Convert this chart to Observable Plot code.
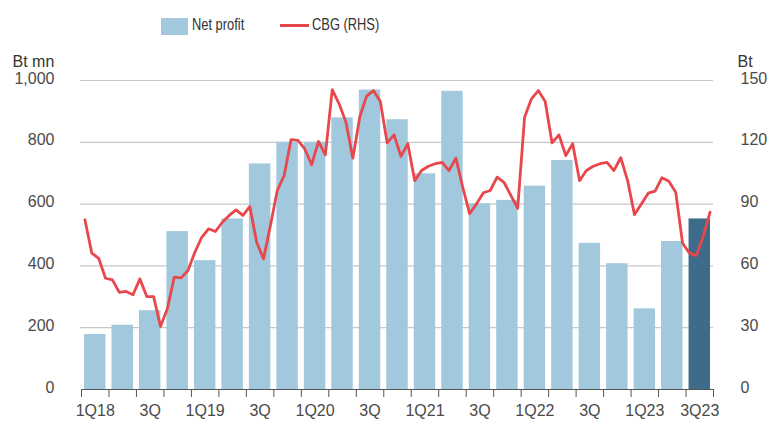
<!DOCTYPE html>
<html>
<head>
<meta charset="utf-8">
<script src="https://cdn.jsdelivr.net/npm/d3@7"></script>
<script src="https://cdn.jsdelivr.net/npm/@observablehq/plot@0.6"></script>
<style>
  html, body { margin: 0; padding: 0; background: #fff; }
  #wrap { width: 772px; position: relative; font-family: "Liberation Sans", Arial, sans-serif; }
  #legend { position: relative; height: 40px; width: 772px; }
  #legend .sw { position: absolute; }
  #legend .lab { position: absolute; font-family: "Liberation Sans", Arial, sans-serif; font-size: 16.5px; color: #333; line-height: 20px; white-space: nowrap; transform: scaleX(0.78); transform-origin: 0 50%; }
</style>
</head>
<body>
<div id="wrap">
  <div id="legend">
    <div class="sw" style="left:161px; top:18px; width:27px; height:17px; background:#a1c8dc;"></div>
    <div class="lab" style="left:192px; top:14px;">Net profit</div>
    <div class="sw" style="left:280px; top:24px; width:29px; height:3px; background:#e8474b;"></div>
    <div class="lab" style="left:312px; top:14px;">CBG (RHS)</div>
  </div>
  <div id="chart"></div>
</div>
<script>
// Quarters 1Q18 .. 3Q23
const quarters = ["1Q18","2Q18","3Q18","4Q18","1Q19","2Q19","3Q19","4Q19","1Q20","2Q20","3Q20","4Q20",
  "1Q21","2Q21","3Q21","4Q21","1Q22","2Q22","3Q22","4Q22","1Q23","2Q23","3Q23"];
// Net profit, Bt mn (left axis)
const netProfit = [178, 208, 255, 511, 417, 552, 730, 800, 800, 879, 969, 873,
  698, 965, 601, 612, 658, 741, 473, 407, 261, 479, 552];
// CBG share price, Bt (right axis), 4 readings per quarter
const cbgPrice = [
  82.4, 66.2, 63.7, 54.0,  53.2, 47.2, 47.6, 46.0,  53.7, 45.1, 45.1, 30.6,  39.2, 54.5, 54.2, 57.8,
  66.6, 73.9, 78.0, 76.7,  81.2, 84.5, 87.2, 84.5,  88.8, 71.5, 63.4, 79.6,  96.6, 103.9, 121.3, 120.9,
  116.8, 109.1, 120.4, 113.9,  145.6, 138.7, 129.7, 112.3,  132.2, 142.4, 145.1, 139.8,  119.7, 123.6, 113.2, 119.3,
  101.4, 106.3, 108.4, 109.6,  110.3, 106.3, 112.3, 98.2,  85.3, 90.1, 95.5, 96.6,  103.1, 100.6, 94.2, 88.0,
  132.2, 141.1, 145.1, 139.8,  119.7, 123.6, 113.6, 119.3,  101.4, 106.3, 108.4, 109.6,  110.3, 106.3, 112.5, 101.4,
  84.9, 90.1, 95.3, 96.3,  102.8, 101.1, 95.8, 71.0,  66.2, 65.0, 74.3, 86.1
];
// Axis ticks
const leftTicks = [0, 200, 400, 600, 800, 1000];
const rightTicks = [0, 30, 60, 90, 120, 150];
const xTickLabels = ["1Q18","3Q","1Q19","3Q","1Q20","3Q","1Q21","3Q","1Q22","3Q","1Q23","3Q23"];

const LMAX = 1000, RMAX = 150;
const toLeft = v => v * LMAX / RMAX;

const bars = quarters.map((q, i) => ({q, i, v: netProfit[i], last: i === quarters.length - 1}));
const pts = cbgPrice.map((p, k) => ({t: (k + 0.5) / 4, p}));
const labelPos = xTickLabels.map((_, j) => j * 2 + 0.5);

const chart = Plot.plot({
  width: 772,
  height: 385,
  marginTop: 40,
  marginBottom: 36,
  marginLeft: 81,
  marginRight: 59,
  style: {fontFamily: "'Liberation Sans', Arial, sans-serif", fontSize: "16px", color: "#4a4a4a", background: "#fff", overflow: "visible"},
  x: {domain: [0, quarters.length]},
  y: {domain: [0, LMAX]},
  marks: [
    Plot.gridY(leftTicks.filter(d => d > 0), {stroke: "#c8c8c8", strokeOpacity: 1, strokeWidth: 1.2, x1: 0, x2: quarters.length, insetLeft: -1}),
    Plot.rectY(bars, {x1: d => d.i + 0.11, x2: d => d.i + 0.89, y: "v", fill: d => d.last ? "#3d6b89" : "#a1c8dc"}),
    Plot.line(pts, {x: "t", y: d => toLeft(d.p), stroke: "#e8474b", strokeWidth: 2.8, strokeLinejoin: "round"}),
    Plot.ruleY([0], {stroke: "#555", strokeWidth: 1.2}),
    Plot.axisY({ticks: leftTicks, tickSize: 0, tickPadding: 27, tickFormat: d3.format(","), label: null, dy: -2, fill: "#4a4a4a"}),
    Plot.axisY({anchor: "right", ticks: rightTicks.map(toLeft), tickSize: 0, tickPadding: 27, tickFormat: d => String(Math.round(d * RMAX / LMAX)), label: null, dy: -2, fill: "#4a4a4a"}),
    Plot.axisX({ticks: d3.range(0, quarters.length + 1), tickSize: 8, tickFormat: () => "", stroke: "#555", label: null}),
    Plot.axisX({ticks: labelPos, tickSize: 0, tickPadding: 15, tickFormat: (d, j) => xTickLabels[j], label: null, fill: "#4a4a4a"}),
    Plot.text(["Bt mn"], {frameAnchor: "top-left", text: d => d, dx: -69, dy: -25, textAnchor: "start", fill: "#333"}),
    Plot.text(["Bt"], {frameAnchor: "top-right", text: d => d, dx: 24, dy: -25, textAnchor: "start", fill: "#333"})
  ]
});
document.getElementById("chart").appendChild(chart);
</script>
</body>
</html>
